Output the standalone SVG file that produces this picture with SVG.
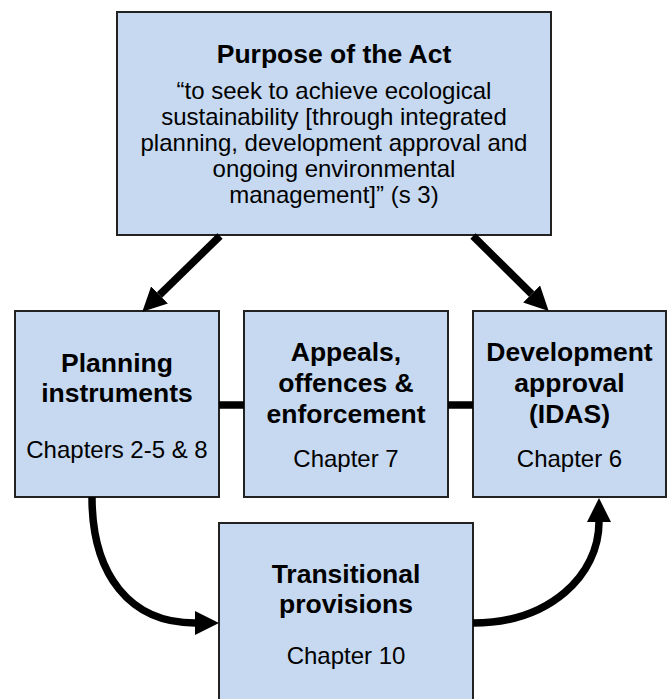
<svg xmlns="http://www.w3.org/2000/svg" width="667" height="699" viewBox="0 0 667 699">
  <style>
    .box { fill: #C6D9F0; stroke: #222; stroke-width: 2; }
    .h { font-family: "Liberation Sans", Arial, sans-serif; font-weight: bold; font-size: 26.5px; fill: #000; text-anchor: middle; }
    .t { font-family: "Liberation Sans", Arial, sans-serif; font-size: 24px; fill: #000; text-anchor: middle; }
    .c { fill: none; stroke: #000; stroke-width: 7.5; }
  </style>
  <defs>
    <marker id="ah" viewBox="0 0 24 24" refX="0" refY="12" markerWidth="24" markerHeight="24" markerUnits="userSpaceOnUse" orient="auto">
      <path d="M0,0 L24,12 L0,24 z" fill="#000"/>
    </marker>
  </defs>
  <g id="purpose">
    <rect class="box" x="117" y="12" width="434" height="223"/>
    <text class="h" x="334" y="63">Purpose of the Act</text>
    <text class="t" x="334" y="99">“to seek to achieve ecological</text>
    <text class="t" x="334" y="125">sustainability [through integrated</text>
    <text class="t" x="334" y="151">planning, development approval and</text>
    <text class="t" x="334" y="177">ongoing environmental</text>
    <text class="t" x="334" y="203">management]” (s 3)</text>
  </g>
  <g id="planning">
    <rect class="box" x="15" y="311" width="204" height="186"/>
    <text class="h" x="117" y="372">Planning</text>
    <text class="h" x="117" y="402">instruments</text>
    <text class="t" x="117" y="458">Chapters 2-5 &amp; 8</text>
  </g>
  <g id="appeals">
    <rect class="box" x="244" y="311" width="204" height="186"/>
    <text class="h" x="346" y="361">Appeals,</text>
    <text class="h" x="346" y="392">offences &amp;</text>
    <text class="h" x="346" y="423">enforcement</text>
    <text class="t" x="346" y="467">Chapter 7</text>
  </g>
  <g id="development">
    <rect class="box" x="473" y="311" width="193" height="186"/>
    <text class="h" x="569.5" y="361">Development</text>
    <text class="h" x="569.5" y="392">approval</text>
    <text class="h" x="569.5" y="423">(IDAS)</text>
    <text class="t" x="569.5" y="467">Chapter 6</text>
  </g>
  <g id="transitional">
    <rect class="box" x="219" y="523" width="254" height="190"/>
    <text class="h" x="346" y="583">Transitional</text>
    <text class="h" x="346" y="613">provisions</text>
    <text class="t" x="346" y="664">Chapter 10</text>
  </g>
  <g id="connectors">
    <line class="c" x1="220" y1="236" x2="159.5" y2="295" marker-end="url(#ah)"/>
    <line class="c" x1="473" y1="236" x2="531.6" y2="294" marker-end="url(#ah)"/>
    <line class="c" x1="219" y1="405" x2="244" y2="405"/>
    <line class="c" x1="448" y1="405" x2="473" y2="405"/>
    <path class="c" d="M92,497 C92,575 130,623 195,623" marker-end="url(#ah)"/>
    <path class="c" d="M473,623 C550,623 599,575 599,522" marker-end="url(#ah)"/>
  </g>
</svg>
